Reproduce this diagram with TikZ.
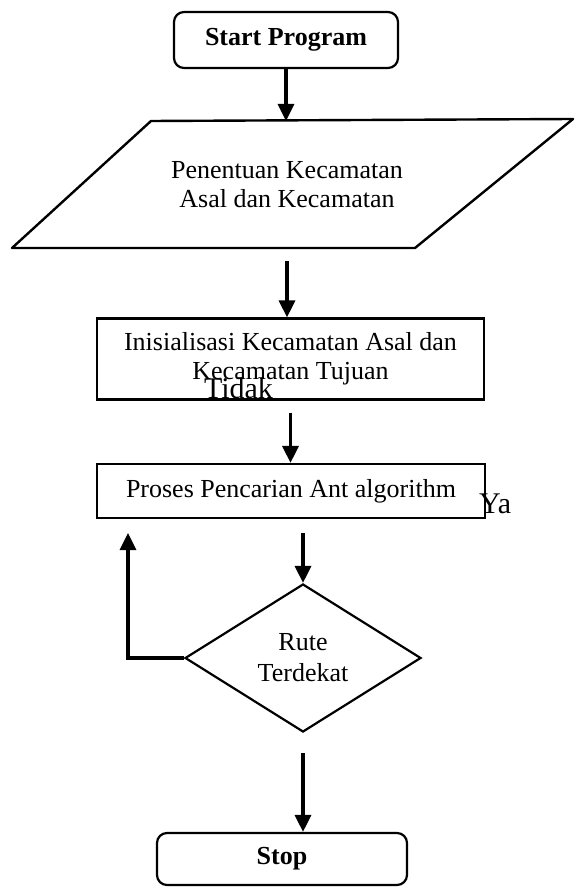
\documentclass[tikz,border=0pt]{standalone}
\usepackage{fontspec}
\setmainfont{Liberation Serif}
\usetikzlibrary{arrows.meta}
\usetikzlibrary{shapes.geometric}
\tikzset{terminal/.style = {draw, rounded corners=10pt, line width=2.2pt,
                            font=\fontsize{26}{29}\selectfont\bfseries}}
\tikzset{process/.style = {draw, line width=2.2pt, align=center,
                           font=\fontsize{26}{29}\selectfont}}
\tikzset{io/.style = {align=center, font=\fontsize{26}{29}\selectfont}}
\tikzset{decision/.style = {draw, diamond, line width=2.2pt, inner sep=0pt,
                            minimum width=236, minimum height=148, align=center,
                            font=\fontsize{26}{31}\selectfont}}
\tikzset{answer/.style = {inner sep=0pt, font=\fontsize{30}{32}\selectfont}}
\tikzset{flow/.style = {-{Triangle[width=16pt, length=17pt]}, line width=3.2pt}}

\begin{document}
\begin{tikzpicture}[x=1pt, y=-1pt]
    \useasboundingbox (0, 0) rectangle (581, 890);

    \node [terminal, minimum width=224, minimum height=56] (start) at (286, 40) {Start Program};

    % input parallelogram
    \coordinate (ptl) at (151, 121);
    \coordinate (ptr) at (573, 119);
    \coordinate (pbr) at (415, 248);
    \coordinate (pbl) at (12, 248);
    \draw [line width=2.4pt, line join=round] (ptl) -- (ptr) -- (pbr) -- (pbl) -- cycle;
    \node [io] (input) at (287, 185) {Penentuan Kecamatan\\Asal dan Kecamatan};

    \node [process, minimum width=387, minimum height=81] (init) at (290.5, 359)
        {Inisialisasi Kecamatan Asal dan\\Kecamatan Tujuan};
    \node [answer, anchor=base] (tidak) at (238.5, 398) {Tidak};
    \node [process, minimum width=388, minimum height=54] (search) at (291, 491)
        {Proses Pencarian Ant algorithm};
    \node [answer, anchor=base west] (ya) at (479, 513) {Ya};
    \node [decision] (check) at (303, 658) {Rute\\Terdekat};
    \node [terminal, minimum width=250, minimum height=52] (stop) at (282, 859) {Stop};
    \coordinate (back) at (128, 533);

    \draw [flow] (start.south) -- (start.south |- ptl);
    \draw [flow, shorten <=13pt] (input |- pbl) -- (input |- init.north);
    \draw [flow, shorten <=12pt] (init.south) -- (init.south |- search.north);
    \draw [flow, shorten <=14pt] (search.south -| check.north) -- (check.north);
    \draw [flow] (check.west) -| (back);
    \draw [flow, shorten <=20pt] (check.south) -- (check.south |- stop.north);
\end{tikzpicture}
\end{document}
